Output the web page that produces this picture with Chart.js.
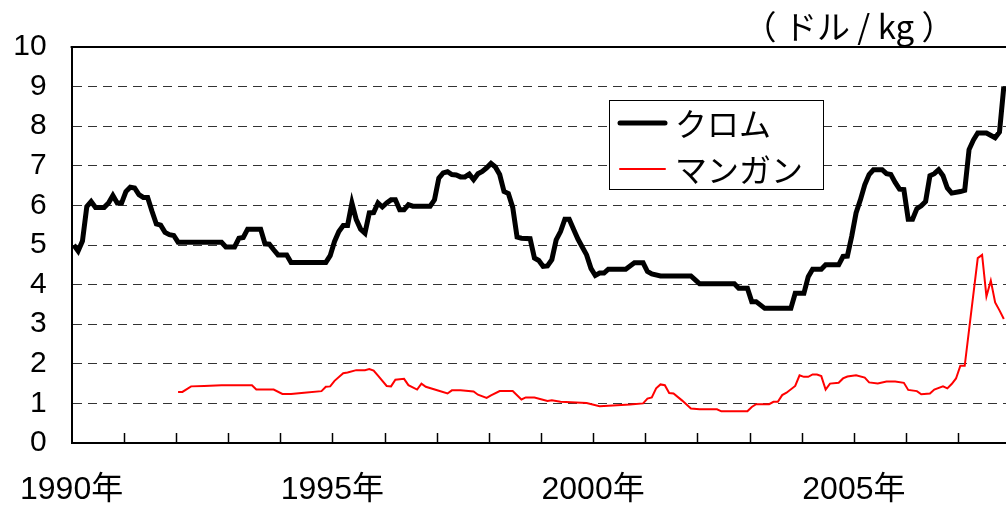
<!DOCTYPE html>
<html>
<head>
<meta charset="utf-8">
<script src="https://cdn.jsdelivr.net/npm/chart.js@4.4.1/dist/chart.umd.min.js"></script>
<style>
html,body{margin:0;padding:0;background:#fff;}
#wrap{position:relative;width:1006px;height:510px;}
</style>
</head>
<body>
<div id="wrap"><canvas id="c" width="1006" height="510"></canvas></div>
<script>
// ---- data (month index counted from January 1990) ----
const startYear = 1990;
const monthsShown = 215;
const labelYears = [1990, 1995, 2000, 2005];
const seriesNames = ['クロム', 'マンガン'];
const unitLabel = '（ ドル / kg ）';

const chromeMonths = [0,1,2,3,4,5,7,8,9,10,11,12,13,14,15,16,17,18,19,20,21,22,23,24,34,35,37,38,39,40,43,44,45,46,47,49,50,58,59,60,61,62,63,64,65,66,67,68,69,70,71,72,73,74,75,76,77,78,82,83,84,85,86,87,88,89,90,91,92,93,94,95,96,97,98,99,100,101,102,103,105,106,107,108,109,110,111,112,113,114,115,116,117,118,119,120,121,122,123,127,128,129,131,132,133,135,142,143,144,152,153,155,156,157,159,165,166,168,169,170,172,173,176,177,178,179,180,181,182,183,184,186,187,188,189,190,191,192,193,194,195,196,197,198,199,200,201,202,204,205,206,207,208,210,212,213,214];
const chromeValues = [5.0,4.85,5.1,5.97,6.1,5.95,5.95,6.06,6.25,6.06,6.06,6.35,6.46,6.44,6.27,6.2,6.2,5.85,5.53,5.5,5.32,5.26,5.24,5.07,5.07,4.95,4.95,5.17,5.19,5.4,5.4,5.03,5.02,4.88,4.75,4.75,4.56,4.56,4.73,5.09,5.34,5.49,5.49,6.06,5.64,5.4,5.3,5.81,5.82,6.06,5.96,6.06,6.14,6.14,5.89,5.89,6.02,5.98,5.98,6.14,6.69,6.82,6.85,6.78,6.77,6.72,6.72,6.79,6.65,6.8,6.86,6.95,7.06,6.97,6.78,6.35,6.3,5.95,5.2,5.17,5.16,4.67,4.61,4.46,4.47,4.63,5.13,5.34,5.65,5.65,5.4,5.15,4.95,4.75,4.41,4.23,4.29,4.29,4.39,4.39,4.47,4.55,4.55,4.33,4.27,4.22,4.22,4.12,4.02,4.02,3.91,3.91,3.57,3.57,3.4,3.4,3.78,3.78,4.2,4.39,4.39,4.5,4.5,4.71,4.72,5.22,5.81,6.14,6.52,6.78,6.9,6.9,6.8,6.78,6.58,6.41,6.4,5.65,5.65,5.92,5.99,6.1,6.75,6.8,6.9,6.75,6.44,6.31,6.35,6.38,7.41,7.65,7.83,7.83,7.71,7.85,9.0];

const manganeseMonths = [24,25,27,30,34,41,42,46,48,50,53,57,58,59,60,62,63,65,67,68,69,70,72,73,74,76,77,79,80,81,84,86,87,89,92,93,95,96,98,101,103,104,106,109,110,112,118,121,124,128,131,132,133,134,135,136,137,138,140,142,144,148,149,155,156,157,160,161,162,163,164,166,167,168,169,170,171,172,173,174,176,177,178,180,182,183,185,187,189,191,192,194,195,197,198,200,201,202,203,204,205,208,209,210,211,212,213,214];
const manganeseValues = [1.29,1.29,1.43,1.44,1.46,1.46,1.35,1.35,1.24,1.24,1.27,1.31,1.42,1.43,1.57,1.76,1.78,1.84,1.84,1.87,1.83,1.7,1.44,1.43,1.6,1.62,1.46,1.35,1.5,1.42,1.32,1.25,1.33,1.33,1.3,1.22,1.14,1.2,1.31,1.31,1.1,1.15,1.15,1.06,1.08,1.04,1.01,0.93,0.95,0.97,1.0,1.12,1.15,1.38,1.48,1.46,1.26,1.25,1.07,0.87,0.85,0.85,0.8,0.8,0.91,0.98,0.98,1.04,1.04,1.21,1.27,1.44,1.71,1.67,1.67,1.73,1.73,1.69,1.35,1.5,1.52,1.63,1.68,1.71,1.65,1.53,1.5,1.55,1.55,1.52,1.34,1.31,1.23,1.25,1.35,1.43,1.38,1.49,1.63,1.95,1.95,4.67,4.75,3.7,4.1,3.55,3.35,3.13];

// ---- build chart ----
const LATIN = "'Liberation Sans', Arial, 'Noto Sans CJK JP', sans-serif";
const CJK = "'Noto Sans CJK JP', 'Liberation Sans', sans-serif";

function toPoints(months, values) {
  // monthly categories: each point sits in the middle of its month slot
  return months.map((m, i) => ({ x: m + 0.5, y: values[i] }));
}

const frameAndLegend = {
  id: 'frameAndLegend',
  beforeDatasetsDraw(chart) {
    const { ctx, chartArea: a, scales: { x } } = chart;
    ctx.save();
    ctx.strokeStyle = '#000';
    ctx.lineWidth = 1.5;
    for (let m = 12; m < monthsShown; m += 12) {
      const px = Math.round(x.getPixelForValue(m)) + 0.5;
      ctx.beginPath();
      ctx.moveTo(px, a.bottom);
      ctx.lineTo(px, a.bottom - 10);
      ctx.stroke();
    }
    ctx.restore();
  },
  afterDraw(chart) {
    const { ctx, chartArea: a } = chart;
    ctx.save();
    // top frame line
    ctx.strokeStyle = '#000';
    ctx.lineWidth = 2;
    ctx.beginPath();
    ctx.moveTo(a.left - 1, a.top);
    ctx.lineTo(a.right, a.top);
    ctx.stroke();

    // unit label
    ctx.fillStyle = '#000';
    ctx.font = '33px ' + CJK;
    ctx.textAlign = 'center';
    ctx.textBaseline = 'middle';
    ctx.fillText(unitLabel, 849, 26);

    // legend
    const bx = 609.5, by = 100.5, bw = 214, bh = 89;
    ctx.fillStyle = '#fff';
    ctx.fillRect(bx, by, bw, bh);
    ctx.strokeStyle = '#000';
    ctx.lineWidth = 1;
    ctx.strokeRect(bx, by, bw, bh);
    const rows = [123, 169];
    chart.data.datasets.forEach((ds, i) => {
      const y = rows[i];
      ctx.strokeStyle = ds.borderColor;
      ctx.lineWidth = ds.borderWidth;
      ctx.lineCap = 'round';
      ctx.beginPath();
      ctx.moveTo(620, y);
      ctx.lineTo(665, y);
      ctx.stroke();
      ctx.fillStyle = '#000';
      ctx.font = '32px ' + CJK;
      ctx.textAlign = 'left';
      ctx.textBaseline = 'middle';
      ctx.fillText(ds.label, 675, y + 1);
    });
    ctx.restore();
  }
};

new Chart(document.getElementById('c'), {
  type: 'line',
  data: {
    datasets: [
      {
        label: seriesNames[0],
        data: toPoints(chromeMonths, chromeValues),
        borderColor: '#000000',
        borderWidth: 5,
        pointRadius: 0,
        tension: 0,
        fill: false,
        order: 1
      },
      {
        label: seriesNames[1],
        data: toPoints(manganeseMonths, manganeseValues),
        borderColor: '#ff0000',
        borderWidth: 2,
        pointRadius: 0,
        tension: 0,
        fill: false,
        order: 2
      }
    ]
  },
  options: {
    responsive: false,
    animation: false,
    devicePixelRatio: 1,
    layout: { padding: { top: 47, right: 0, left: 0, bottom: 0 } },
    plugins: { legend: { display: false }, tooltip: { enabled: false } },
    scales: {
      x: {
        type: 'linear',
        min: 0,
        max: monthsShown,
        afterFit(s) { s.height = 67; },
        afterBuildTicks(s) {
          const t = [];
          for (let m = 0; m < monthsShown; m += 12) t.push({ value: m });
          s.ticks = t;
        },
        ticks: {
          autoSkip: false,
          maxRotation: 0,
          padding: 20,
          color: '#000',
          font: { family: LATIN, size: 32 },
          callback(v) {
            const yr = startYear + v / 12;
            return labelYears.includes(yr) ? yr + '年' : '';
          }
        },
        grid: { display: false },
        border: { display: true, color: '#000', width: 2 }
      },
      y: {
        min: 0,
        max: 10,
        afterFit(s) { s.width = 67; },
        ticks: {
          stepSize: 1,
          padding: 25,
          color: '#000',
          font: { family: LATIN, size: 30 }
        },
        grid: {
          drawTicks: false,
          lineWidth: 1,
          color(c) {
            const v = c.tick && c.tick.value;
            return (v === 0 || v === 10) ? 'rgba(0,0,0,0)' : '#333';
          }
        },
        border: { display: true, color: '#000', width: 2, dash: [9, 6] }
      }
    }
  },
  plugins: [frameAndLegend]
});
</script>
</body>
</html>
